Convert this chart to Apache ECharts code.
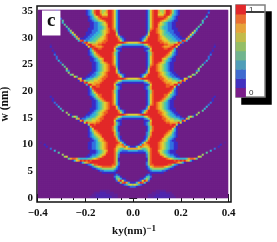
<!DOCTYPE html>
<html><head><meta charset="utf-8">
<style>html,body{margin:0;padding:0;background:#fff}#main{width:277px;height:242px;filter:blur(0.5px)}</style>
<script src="https://cdn.jsdelivr.net/npm/echarts@6/dist/echarts.min.js"></script>
</head><body><div id="main"></div>
<script>
// colour levels of the map, low to high
const mapColors = ['#6E1F87','#3A2CC8','#3070E0','#35B0D8','#55C8A0','#A0D060','#E0D030','#F0A028','#EE6020','#E22828'];
// the colour key is drawn paler than the map
const keyColors = ['#7B1E8A','#4232C0','#3F6BD0','#4F9DB8','#70B48E','#94BE66','#C2BB4A','#E6A33A','#EA6E30','#E2282A'];
const legendLevels = [0,1,2,3,4,5,6,7,8,9];
const legendLabels = ['0','','','','','','','','','1'];
const xMajor = [-0.4,-0.2,0,0.2,0.4];
const xMinor = [-0.35,-0.3,-0.25,-0.15,-0.1,-0.05,0.05,0.1,0.15,0.25,0.3,0.35];
const yMajor = [0,5,10,15,20,25,30,35];
const yMinor = [1,2,3,4,6,7,8,9,11,12,13,14,16,17,18,19,21,22,23,24,26,27,28,29,31,32,33,34];
// Intensity, one string per w row (top to bottom),
// one character per ky step from ky = 0 outwards; the map is mirror symmetric.
// a,b are the faint tints between level 0 and level 1.
const intensityRows = [
"0000000136 8997557998 5321000000 0000000010",
"0000000136 8997657998 5321000000 0000000020",
"0000000136 8996668997 4321000000 0000000100",
"0000000136 8998889865 3210000000 0000000300",
"0000000136 8999998754 3210000000 0000002000",
"0000000136 8999876543 2110000000 0000040000",
"0000000136 8998654322 1100000000 0000030000",
"0000000136 8997654322 1100000000 0000400000",
"0000000136 8997543322 1100000000 0004000000",
"0000000137 8987543322 1110000000 0041000000",
"0000000148 9987654322 2110000000 0520000000",
"0000000159 9987654332 2111000000 6300000000",
"0000000269 9998654433 2211000006 3",
"0000012589 9998765443 3221100073",
"0000124799 9998766544 3322111740",
"0000136899 9998876654 4332398300",
"6667899999 9999887765 5569820000",
"3333335689 9999998877 7997100000 0000000000 0a",
"1111112358 9999987778 9961000000 0000000000 01",
"0000001126 9999998899 8300000000 0000000000 a",
"0000001247 9999999998 5310000000 0000000000 1",
"0000000135 8999999986 4210000000 0000000001",
"0000000135 8999999875 3210000000 0000000002",
"0000000136 8999998754 2100000000 0000000020",
"0000000136 8999976532 1100000000 0000000020",
"0000000136 8999975432 1100000000 0000000300",
"0000000136 8998765321 1000000000 0000002000",
"0000000137 8987654321 1000000000 0000040000",
"0000000148 9987654321 1000000000 0000400000",
"0000000159 9987654321 1000000000 0005000000",
"0000000269 9987654321 1000000000 0024000000",
"0000001379 9998765432 1100000000 0050000000",
"0000124799 9998765432 2110000000 5400000000",
"0000136899 9998876543 2211000046",
"6667899999 9999887655 4332116700",
"3333335689 9999987766 5544597100",
"1111112358 9999998777 6669810000",
"0000001126 9999999887 7993000000",
"0000001247 9999999889 9610000000",
"0000001247 9999999999 8310000000",
"0000000135 8999999998 5210000000",
"0000000135 8999999986 4210000000",
"0000000136 8999998864 3210000000",
"0000000136 8999998754 2100000000 0000000000 01",
"0000000136 8999987542 1100000000 0000000000 1",
"0000000136 8999875421 1000000000 0000000000 1",
"0000000136 8987654321 1000000000 0000000002",
"0000000137 8987654321 1000000000 0000000020",
"0000000269 9987654321 1000000000 0000000300",
"0000001379 9987654321 1100000000 0000003000",
"0000124799 9998765432 1100000000 0000040000",
"0000136899 9998876543 2110000000 0005000000",
"6667899999 9999876543 3211000000 0150000000",
"3333335689 9999987654 3322100046 4",
"1111112358 9999988765 5443221750",
"0000001126 9999998776 6555497100",
"0000001247 9999999887 7779610000",
"0000001247 9999999998 9951000000",
"0000000135 8999999999 9710000000",
"0000000135 8999999999 6310000000",
"0000000136 8999999987 5310000000",
"0000000247 9999999876 4210000000",
"0000000247 9999998765 3210000000",
"0000001258 9999997654 3210000000",
"0000001379 9999976543 2100000000",
"0000012589 9999876532 1100000000",
"0000136899 9998765432 2110000000 0000000000 000000a",
"0001387789 9998765432 2110000000 0000000000 00001",
"1136876679 9998765432 2110000000 0000000000 0001",
"7776544568 9998765432 2110000000 0000000000 02",
"3332223468 9997654321 1100000000 0000000003",
"1111111358 9998654321 1100000000 0000000400",
"0000000258 9999765432 2110000000 0000050000",
"0000000258 9999986543 3211000000 0006500000",
"0000000158 9999999876 5443333478 8740000000",
"0000000158 9999999999 9898989763 1",
"0000000258 9999999999 9987531000",
"0000000258 8999999988 5321000000",
"0000000136 7888887654 2100000000",
"0000000124 5555554321 1000000000",
"0000000012 3333322100",
"0000000001 1111110000",
"0000000121",
"0000001342",
"0000113541",
"0001269720",
"1137984100",
"5653210000",
"221",
"",
"0000000000 00aaaaa000",
"0000000000 aaaabbbaaa",
"00000000aa aabbbbbbba a",
"00000000aa abbbbbbbba aa"
];
const halfCols = 48;
const serif = '"Liberation Serif","DejaVu Serif",serif';

const heatData = [];
intensityRows.forEach((row, j) => {
  const s = row.replace(/ /g,'').padEnd(halfCols,'0');
  const vals = s.split('').map(c => c==='a' ? 0.3 : c==='b' ? 0.6 : +c);
  for (let k = -(halfCols-1); k <= halfCols-1; k++) heatData.push([k+halfCols-1, j, vals[Math.abs(k)]]);
});
const heatX = Array.from({length:2*halfCols-1},(_, i)=>i);
const heatY = intensityRows.map((_, j)=>j);

const X = {min:-0.4027,max:0.41};
const Y = {min:-0.75,max:35.94};
const fmtX = v => v.toFixed(1).replace('-','\u2212');
const lab = {fontFamily:serif,fontWeight:'bold',fontSize:11,color:'#111'};
const tick = len => ({show:true,inside:true,length:len,lineStyle:{color:'#111',width:1}});
function xa(pos, vals, len, extra){
  return Object.assign({type:'value',gridIndex:1,position:pos,min:X.min,max:X.max,splitLine:{show:false},
    axisLine:{show:false},axisTick:Object.assign(tick(len),{customValues:vals}),
    axisLabel:{show:false,customValues:vals}},extra||{});
}
function ya(pos, vals, len, extra){
  return Object.assign({type:'value',gridIndex:1,position:pos,min:Y.min,max:Y.max,splitLine:{show:false},
    axisLine:{show:false},axisTick:Object.assign(tick(len),{customValues:vals}),
    axisLabel:{show:false,customValues:vals}},extra||{});
}
const option = {
  animation:false,
  backgroundColor:'#fff',
  title:{text:'c',left:42,top:13,padding:[1,5,5,5],backgroundColor:'#fff',
    textStyle:{fontFamily:serif,fontWeight:'bold',fontSize:19,color:'#111',lineHeight:14}},
  grid:[
    {left:38,top:10,width:190,height:2*intensityRows.length,outerBoundsMode:'none'},
    {left:37,top:6,width:194,height:196,show:true,borderColor:'#111',borderWidth:1.5,backgroundColor:'transparent',outerBoundsMode:'none'},
    {left:236,top:5,width:29,height:92,show:true,backgroundColor:'#fff',borderColor:'#808080',borderWidth:1.5,
      shadowColor:'#000',shadowBlur:0,shadowOffsetX:6,shadowOffsetY:7,outerBoundsMode:'none'}
  ],
  xAxis:[
    {type:'category',gridIndex:0,data:heatX,show:false},
    xa('bottom',xMajor,4,{axisLabel:Object.assign({show:true,customValues:xMajor,formatter:fmtX,margin:6},lab),
      name:'{a|ky(nm)}{s|\u22121}',nameLocation:'middle',nameGap:21,
      nameTextStyle:{rich:{a:{fontFamily:serif,fontWeight:'bold',fontSize:11,color:'#111'},
        s:{fontFamily:serif,fontWeight:'bold',fontSize:9,color:'#111',padding:[0,0,5,0]}}}}),
    xa('bottom',xMinor,2),
    xa('top',xMajor,4),
    xa('top',xMinor,2),
    {type:'category',gridIndex:2,data:['bar','gap1','gap2'],show:false}
  ],
  yAxis:[
    {type:'category',gridIndex:0,data:heatY,inverse:true,show:false},
    ya('left',yMajor,4,{axisLabel:Object.assign({show:true,customValues:yMajor,margin:4},lab),
      name:'w (nm)',nameLocation:'middle',nameRotate:90,nameGap:11,
      nameTextStyle:{fontFamily:serif,fontWeight:'bold',fontSize:11.5,color:'#111'}}),
    ya('left',yMinor,2),
    ya('right',yMajor,4),
    ya('right',yMinor,2),
    {type:'category',gridIndex:2,data:legendLabels.map((t,i)=>i),
      axisLine:{show:false},axisTick:{show:false},
      axisLabel:{inside:true,margin:13,interval:0,fontFamily:'"Liberation Sans",sans-serif',fontSize:8,color:'#333',
        formatter:(v,i)=>legendLabels[i]}}
  ],
  visualMap:[
    {show:false,type:'continuous',min:0,max:9,seriesIndex:0,inRange:{color:mapColors}},
    {show:false,type:'continuous',min:0,max:9,seriesIndex:1,inRange:{color:keyColors}}
  ],
  series:[
    {type:'heatmap',xAxisIndex:0,yAxisIndex:0,data:heatData,progressive:0,itemStyle:{borderWidth:0}},
    {type:'heatmap',xAxisIndex:5,yAxisIndex:5,data:legendLevels.map((v,i)=>[0,i,v]),itemStyle:{borderWidth:0}}
  ]
};
const chart = echarts.init(document.getElementById('main'),null,{renderer:'canvas'});
chart.setOption(option);
</script></body></html>
